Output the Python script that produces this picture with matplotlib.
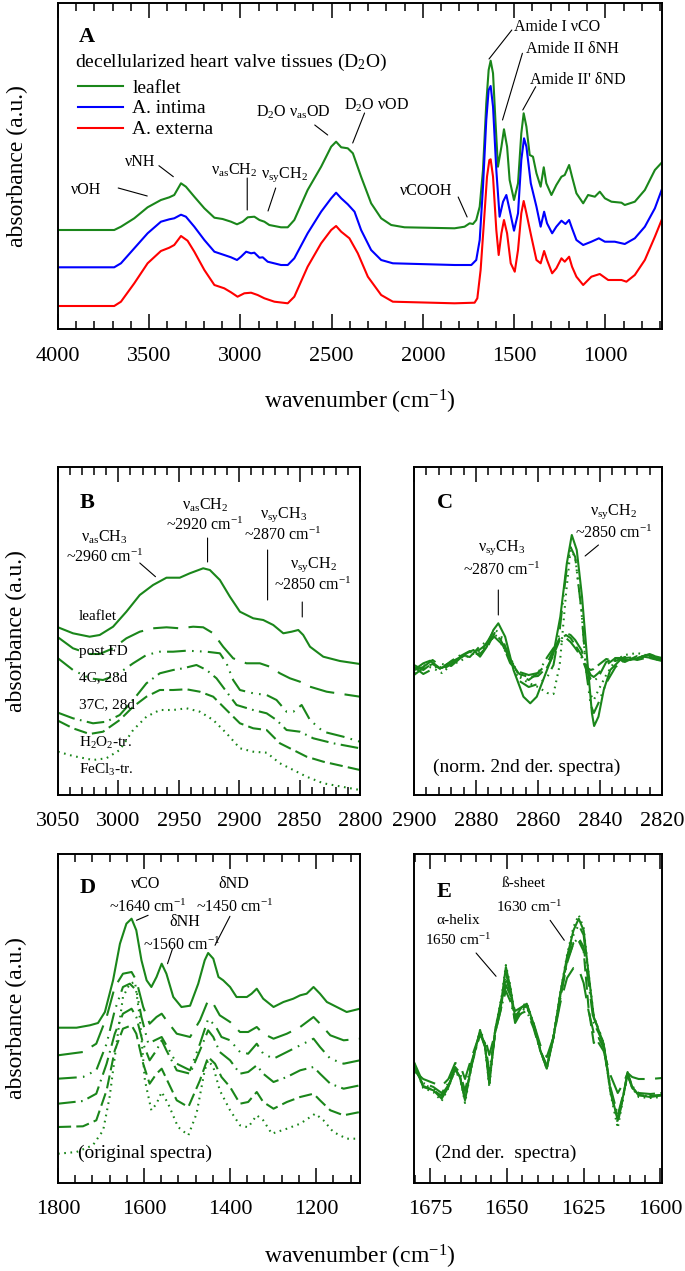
import matplotlib
matplotlib.use("Agg")
import matplotlib.pyplot as plt
from matplotlib.ticker import MultipleLocator

plt.rcParams['font.family'] = ['Liberation Serif', 'DejaVu Serif']
plt.rcParams['font.serif'] = ['Liberation Serif', 'DejaVu Serif']
plt.rcParams['mathtext.fontset'] = 'custom'
plt.rcParams['mathtext.rm'] = 'Liberation Serif'
plt.rcParams['mathtext.it'] = 'Liberation Serif:italic'
plt.rcParams['mathtext.bf'] = 'Liberation Serif:bold'
plt.rcParams['mathtext.default'] = 'regular'

GREEN = '#1a861a'

# ---------------- Panel A data ----------------
A_green_w = [4000, 3692, 3655, 3582, 3509, 3436, 3390, 3363, 3326, 3299, 3253, 3198, 3143, 3098, 3052, 3019, 2988, 2960, 2924, 2896, 2869, 2842, 2778, 2741, 2705, 2632, 2558, 2503, 2476, 2448, 2412, 2384, 2339, 2284, 2229, 2174, 2101, 1827, 1772, 1744, 1726, 1708, 1689, 1671, 1653, 1640, 1629, 1616, 1603, 1589, 1570, 1556, 1539, 1525, 1501, 1479, 1461, 1448, 1433, 1415, 1397, 1378, 1355, 1338, 1324, 1296, 1269, 1241, 1223, 1199, 1183, 1159, 1122, 1095, 1058, 1031, 1003, 967, 912, 894, 839, 784, 729, 692]
A_green_h = [99, 99, 102.3, 110.7, 121.7, 129, 131.7, 134, 145.7, 142.3, 132.3, 120.7, 111.3, 110, 107.3, 104.7, 107.3, 111.7, 112.3, 109, 107.3, 104, 101.7, 101.7, 109, 139, 162.3, 182.3, 187.3, 181.7, 180.7, 175.7, 152.3, 125.7, 110.7, 104, 101.7, 100.7, 102.3, 105.7, 105, 109, 122.3, 159, 225.7, 259, 268.3, 255.7, 209, 162.3, 182.3, 199.7, 182.3, 149, 129, 145.7, 195.7, 215.7, 202.3, 174, 172.3, 155.7, 142.3, 161.7, 145.7, 134, 144, 152.3, 154, 164, 152.3, 135.7, 125.7, 134, 132.3, 137.3, 130.7, 127.3, 126.3, 124, 127.3, 139, 159, 166.3]

A_blue_w = [4000, 3692, 3655, 3582, 3509, 3436, 3390, 3363, 3326, 3299, 3253, 3198, 3143, 3089, 3052, 3019, 2997, 2969, 2942, 2924, 2896, 2878, 2851, 2778, 2741, 2705, 2632, 2558, 2503, 2476, 2448, 2412, 2375, 2339, 2284, 2229, 2165, 1827, 1735, 1708, 1689, 1671, 1653, 1640, 1629, 1616, 1598, 1580, 1561, 1543, 1525, 1501, 1479, 1461, 1446, 1433, 1409, 1378, 1355, 1336, 1320, 1292, 1269, 1241, 1219, 1199, 1183, 1159, 1122, 1077, 1036, 1003, 949, 894, 839, 784, 729, 692]
A_blue_h = [61.7, 61.7, 65.7, 80.7, 95.7, 107.3, 109.7, 110.7, 114.3, 112.3, 102.3, 89, 77.3, 74, 71.7, 69, 72.3, 77.3, 75.7, 76.3, 71.3, 71.7, 67.3, 64, 64, 70.7, 95.7, 117.3, 130.7, 136.3, 130.7, 124.7, 117.3, 99, 79, 69, 65.7, 64, 64, 69, 89, 142.3, 209, 239, 243, 222.3, 159, 112.3, 127.3, 134, 119, 98.3, 115.7, 169, 190.7, 182.3, 145.7, 122.3, 102.3, 117.3, 105.7, 95.7, 102.3, 108.3, 105, 109, 100.7, 89, 84, 87.3, 90.7, 87.3, 87.3, 85, 90.7, 102.3, 120.7, 139]

A_red_w = [4000, 3692, 3655, 3582, 3509, 3436, 3390, 3363, 3326, 3290, 3253, 3198, 3143, 3089, 3052, 3016, 2979, 2942, 2906, 2869, 2814, 2741, 2705, 2632, 2558, 2503, 2476, 2448, 2403, 2357, 2302, 2229, 2165, 1827, 1717, 1702, 1684, 1665, 1649, 1636, 1629, 1616, 1598, 1585, 1570, 1556, 1539, 1519, 1497, 1479, 1461, 1448, 1433, 1406, 1378, 1355, 1336, 1320, 1292, 1269, 1241, 1223, 1199, 1183, 1159, 1122, 1077, 1031, 985, 912, 885, 839, 784, 729, 692]
A_red_h = [23, 23, 27.3, 45.7, 65.7, 78, 81.3, 84, 93, 88.3, 77.3, 59, 44, 40.7, 36.7, 32.3, 35.7, 36.3, 34, 30.7, 27.3, 25.7, 32.3, 62.3, 85.7, 99, 103, 97.3, 90.7, 75.7, 52.3, 34, 27.3, 25.7, 26.3, 30.7, 59, 109, 152.3, 169, 169.7, 152.3, 99, 74, 95.7, 109, 95.7, 65.7, 57.3, 79, 115.7, 128, 115.7, 92.3, 69, 65.7, 78, 69, 55.7, 60.7, 70.7, 67.3, 72.3, 62.3, 52.3, 44, 52.3, 55, 49, 49, 47.3, 54, 69, 92.3, 109]

A_labels = ['leaflet', 'A. intima', 'A. externa']

# ---------------- Panel B data ----------------
B_leaflet_w = [3050, 3037.6, 3023.8, 3015.5, 3004.4, 2993.4, 2982.3, 2971.3, 2960.2, 2949.2, 2940.9, 2929.8, 2924.3, 2916, 2907.7, 2899.4, 2888.4, 2880.1, 2871.8, 2863.5, 2856.6, 2851.1, 2847, 2841.4, 2830.4, 2816.6, 2800]
B_leaflet_h = [167.7, 161.7, 158.3, 160, 168.3, 183.3, 200, 210, 217.3, 217.3, 221.7, 226.7, 225, 215, 198.3, 183.3, 176.7, 175, 170, 161.7, 163.3, 165, 160, 148.3, 138.3, 134, 131]
B_postFD_w = [3050, 3037.6, 3023.8, 3015.5, 3004.4, 2993.4, 2982.3, 2971.3, 2960.2, 2949.2, 2938.1, 2929.8, 2921.5, 2913.3, 2905, 2894, 2882.9, 2874.6, 2866.3, 2858, 2849.7, 2841.4, 2827.6, 2800]
B_postFD_h = [157.7, 146.7, 141, 141, 146.7, 156.7, 163.3, 166.7, 167.7, 166.7, 168.3, 167.7, 161.7, 148.3, 136.7, 131.7, 131.7, 128.3, 121.7, 116.7, 113.3, 108.3, 103.3, 98.3]
B_4C_w = [3050, 3037.6, 3023.8, 3012.7, 3001.7, 2987.8, 2976.8, 2965.7, 2954.7, 2943.6, 2927, 2916, 2910.5, 2905, 2899.4, 2888.4, 2877.3, 2869.1, 2860.8, 2855.2, 2848.3, 2841.4, 2830.4, 2813.8, 2800]
B_4C_h = [136.7, 125, 116.7, 115, 120, 131.7, 140, 143.3, 143.3, 144.3, 143.3, 141.7, 131.7, 115, 105, 101.7, 100, 95, 83.3, 83.3, 90, 75, 63.3, 58.3, 53.3]
B_37C_w = [3050, 3037.6, 3021, 3010, 2998.9, 2987.8, 2976.8, 2965.7, 2954.7, 2946.4, 2935.4, 2927, 2918.8, 2910.5, 2902.2, 2888.4, 2877.3, 2869.1, 2860.8, 2849.7, 2838.7, 2822.1, 2800]
B_37C_h = [82.3, 76.7, 71.7, 73.3, 80, 95, 111.7, 121.7, 125, 126.7, 130, 125, 116.7, 103.3, 90, 85, 81.7, 75, 65, 63.3, 56.7, 51.7, 46.7]
B_H2O2_w = [3050, 3037.6, 3023.8, 3012.7, 2998.9, 2987.8, 2976.8, 2965.7, 2954.7, 2943.6, 2932.6, 2921.5, 2910.5, 2899.4, 2888.4, 2877.3, 2866.3, 2855.2, 2844.2, 2830.4, 2800]
B_H2O2_h = [74.3, 66.7, 61, 63.3, 75, 88.3, 98.3, 105, 105, 105.7, 103.3, 98.3, 85, 71.7, 66.7, 65, 51.7, 45, 38.3, 33.3, 25]
B_FeCl3_w = [3050, 3037.6, 3021, 3010, 2998.9, 2987.8, 2976.8, 2965.7, 2954.7, 2943.6, 2932.6, 2921.5, 2910.5, 2899.4, 2888.4, 2877.3, 2866.3, 2855.2, 2844.2, 2830.4, 2800]
B_FeCl3_h = [43.3, 39, 35, 36.7, 45, 65, 78.3, 85, 85, 86.7, 83.3, 75, 61.7, 46.7, 43.3, 42.3, 31.7, 25, 18.3, 11.7, 5]
B_labels = ['leaflet', 'post FD', '4C, 28d', '37C, 28d', 'H$_2$O$_2$-tr.', 'FeCl$_3$-tr.']
B_label_h = [178, 144, 117, 90, 52, 25]

# ---------------- Panel C data ----------------
C_leaflet_w = [2900, 2897, 2894.8, 2891.6, 2888.4, 2886.2, 2883, 2880.8, 2878.7, 2876.5, 2874.4, 2872.8, 2870.6, 2867.9, 2864.7, 2862.5, 2860.4, 2857.1, 2855, 2852.8, 2850.7, 2849.1, 2847.5, 2845.8, 2844.2, 2842.6, 2841.9, 2840.5, 2838.8, 2836.7, 2833.5, 2830.2, 2825.9, 2822.7, 2820]
C_leaflet_h = [125, 131.7, 134.3, 126.7, 130, 135, 141.7, 145, 138.3, 148.3, 165, 171.7, 158.3, 125, 98.3, 91.7, 98.3, 125, 141.7, 178.3, 231.7, 260, 245, 198.3, 138.3, 81.7, 69, 78.3, 105, 125, 135, 135, 138.3, 136.7, 135]
C_w = [2900, 2897, 2894, 2891, 2888, 2885, 2882, 2879, 2876, 2874, 2872, 2869, 2866, 2863, 2860, 2857, 2855, 2853, 2851, 2849.5, 2848, 2846, 2844.5, 2843, 2842, 2840.5, 2838, 2835, 2832, 2828, 2824, 2820]
C_postFD_h = [125, 128, 135, 128, 133, 138, 142, 145, 152, 160, 155, 135, 123, 120, 122, 132, 145, 157, 162, 160, 155, 145, 130, 120, 118, 122, 130, 137, 137, 138, 140, 137]
C_4C_h = [128, 121, 126, 131, 129, 137, 143, 141, 155, 166, 160, 136, 114, 108, 111, 118, 130, 165, 220, 248, 238, 185, 125, 90, 82, 92, 112, 128, 135, 137, 141, 136]
C_37C_h = [130, 125, 132, 127, 134, 140, 138, 148, 155, 158, 152, 135, 120, 115, 122, 138, 147, 152, 157, 153, 147, 138, 126, 116, 114, 118, 133, 137, 133, 139, 137, 134]
C_H2O2_h = [120, 127, 131, 125, 131, 139, 144, 140, 150, 162, 155, 132, 121, 118, 119, 128, 140, 155, 160, 157, 150, 140, 128, 125, 126, 130, 136, 134, 138, 135, 138, 136]
C_FeCl3_h = [122, 130, 127, 122, 130, 134, 140, 143, 150, 160, 157, 138, 118, 112, 108, 102, 101, 130, 200, 245, 238, 185, 125, 100, 95, 105, 120, 135, 140, 142, 139, 133]

# ---------------- Panel D data ----------------
D_leaflet_w = [1800, 1757, 1726, 1707, 1691, 1672, 1656, 1641, 1629, 1618, 1606, 1594, 1583, 1571, 1559, 1548, 1532, 1513, 1493, 1474, 1459, 1451, 1439, 1427, 1416, 1400, 1385, 1361, 1350, 1338, 1323, 1299, 1276, 1253, 1237, 1222, 1206, 1191, 1175, 1152, 1129, 1098]
D_leaflet_h = [155.3, 155.3, 157.7, 160, 171, 202.7, 239.3, 259.3, 264.3, 252.7, 222.7, 202.7, 196, 206, 219.3, 209.3, 186, 176, 177.3, 199.3, 222.7, 230, 224.3, 206, 202.7, 196, 186, 186, 189.3, 194.3, 184.3, 176, 181, 184.3, 187.7, 189.3, 196, 189.3, 181, 176, 171, 174.3]
D_postFD_w = [1800, 1742, 1711, 1687, 1668, 1649, 1629, 1618, 1602, 1587, 1571, 1559, 1548, 1524, 1493, 1470, 1451, 1439, 1424, 1400, 1377, 1358, 1338, 1323, 1299, 1268, 1237, 1206, 1191, 1167, 1136, 1098]
D_postFD_h = [127.7, 131, 139.3, 166, 196, 209.3, 211, 202.7, 176, 159.3, 166, 169.3, 162.7, 149.3, 146, 162.7, 182.7, 179.3, 167.7, 161, 151, 151, 156, 149.3, 144.3, 149.3, 156, 166, 159.3, 147.7, 142.7, 144.3]
D_4C_w = [1800, 1742, 1711, 1687, 1668, 1649, 1633, 1618, 1606, 1590, 1575, 1559, 1548, 1524, 1493, 1470, 1451, 1435, 1420, 1400, 1377, 1358, 1338, 1323, 1299, 1268, 1237, 1206, 1191, 1167, 1136, 1098]
D_4C_h = [104.3, 106, 112.7, 139.3, 172.7, 196, 199.3, 192.7, 166, 139.3, 142.7, 146, 137.7, 119.3, 112.7, 139.3, 164, 157.7, 146, 142.7, 131, 129.3, 139.3, 129.3, 124.3, 131, 137.7, 144.3, 136, 124.3, 119.3, 122.7]
D_37C_w = [1800, 1742, 1711, 1687, 1668, 1649, 1629, 1618, 1602, 1587, 1571, 1559, 1548, 1524, 1493, 1470, 1451, 1439, 1424, 1400, 1377, 1358, 1338, 1323, 1299, 1268, 1237, 1206, 1191, 1167, 1136, 1098]
D_37C_h = [79.3, 82, 89.3, 119.3, 149.3, 169.3, 174.3, 166, 139.3, 122.7, 132.7, 142.7, 132.7, 112.7, 109.3, 132.7, 152.7, 146, 131, 122.7, 109.3, 111, 117.7, 109.3, 101, 106, 112.7, 116, 109.3, 99.3, 94.3, 97.7]
D_H2O2_w = [1800, 1742, 1711, 1687, 1668, 1649, 1629, 1618, 1602, 1587, 1571, 1559, 1548, 1524, 1497, 1470, 1451, 1435, 1420, 1400, 1377, 1358, 1338, 1323, 1299, 1268, 1237, 1206, 1191, 1167, 1136, 1098]
D_H2O2_h = [56, 56.7, 62.7, 92.7, 132.7, 154.3, 157.7, 149.3, 119.3, 99.3, 109.3, 114.3, 104.3, 82.7, 76, 102.7, 126, 119.3, 106, 96, 79.3, 81, 91, 81, 74.3, 81, 86, 89.3, 82.7, 72.7, 67.7, 71]
D_FeCl3_w = [1800, 1757, 1719, 1695, 1680, 1664, 1649, 1633, 1621, 1610, 1598, 1583, 1571, 1559, 1544, 1521, 1497, 1478, 1459, 1451, 1439, 1424, 1400, 1377, 1358, 1338, 1323, 1303, 1268, 1237, 1202, 1183, 1160, 1129, 1098]
D_FeCl3_h = [29.3, 31, 37.7, 52.7, 86, 139.3, 186, 199.3, 201, 166, 102.7, 72.7, 79.3, 91, 79.3, 56, 47.7, 69.3, 112.7, 122.7, 116, 92.7, 72.7, 57.7, 55.7, 67.7, 62.7, 49.3, 54.3, 59.3, 69.3, 62.7, 51, 44.3, 44.3]

# ---------------- Panel E data ----------------
E_w = [1680.2, 1677.2, 1673.9, 1671.2, 1669, 1666.8, 1665.2, 1663.6, 1661.4, 1658.7, 1657.1, 1655.7, 1653.8, 1651.6, 1650.3, 1648.9, 1647.3, 1645.1, 1643.5, 1641.3, 1639.1, 1637, 1634.8, 1632.6, 1630.4, 1628.3, 1626.6, 1625, 1623.4, 1621.7, 1620.1, 1618.5, 1616.3, 1613.9, 1612, 1610.7, 1609.2, 1607.1, 1603.3, 1599.5]
E_leaflet_h = [119.3, 96, 92.7, 84.3, 96, 114.3, 106, 82.7, 119.3, 152.7, 137.3, 99.3, 152.7, 186, 216, 196, 166, 176, 179.3, 159.3, 132.7, 114.3, 146, 189.3, 226, 252.7, 264.3, 252.7, 209.3, 166, 152.7, 139.3, 92.7, 62.7, 89.3, 111, 96, 87.7, 86, 87.7]
E_postFD_h = [112, 104, 100, 97, 104, 120, 118, 104, 126, 150, 145, 128, 150, 178, 198, 188, 172, 176, 178, 160, 138, 126, 146, 180, 205, 215, 214, 200, 172, 150, 140, 132, 108, 90, 100, 110, 106, 104, 104, 105]
E_4C_h = [117, 98, 95, 88, 98, 112, 104, 86, 118, 150, 136, 100, 150, 182, 210, 192, 160, 172, 176, 157, 132, 115, 146, 188, 225, 248, 258, 248, 205, 165, 154, 140, 92, 60, 88, 108, 95, 88, 87, 88]
E_37C_h = [121, 100, 96, 90, 100, 116, 110, 92, 122, 148, 140, 112, 150, 178, 192, 182, 164, 170, 172, 155, 132, 118, 146, 184, 220, 240, 245, 236, 200, 160, 150, 138, 96, 68, 90, 108, 97, 90, 89, 90]
E_H2O2_h = [118, 97, 93, 87, 97, 113, 106, 84, 120, 151, 137, 102, 151, 184, 205, 191, 163, 174, 177, 158, 133, 116, 146, 187, 222, 240, 242, 232, 175, 140, 145, 135, 94, 64, 89, 109, 96, 88, 87, 88]
E_FeCl3_h = [120, 95, 91, 82, 95, 114, 105, 80, 118, 153, 137, 96, 153, 188, 218, 198, 166, 177, 180, 160, 133, 114, 147, 190, 228, 256, 268, 255, 210, 167, 153, 140, 90, 55, 87, 111, 95, 86, 85, 86]

# line styles (leaflet, post FD, 4C, 37C, H2O2, FeCl3)
STYLES = ['-', (0, (12, 5)), (0, (9, 3, 0.8, 3, 0.8, 3)), (0, (8.5, 2.6, 0.8, 2.6)),
          (0, (6.3, 2.5)), (0, (0.8, 2.2))]

W, H = 685, 1271
fig = plt.figure(figsize=(W / 100, H / 100), dpi=100)
SERIF = 'Liberation Serif'


def px_axes(l, t, r, b):
    return fig.add_axes([l / W, 1 - b / H, (r - l) / W, (b - t) / H])


def style_axes(ax, major, minor, pad=12):
    ax.xaxis.set_major_locator(MultipleLocator(major))
    ax.xaxis.set_minor_locator(MultipleLocator(minor))
    ax.tick_params(axis='x', which='both', direction='in', top=True, bottom=True,
                   labelsize=16, pad=pad, labelfontfamily=SERIF)
    ax.tick_params(axis='x', which='major', length=11, width=1.1)
    ax.tick_params(axis='x', which='minor', length=5.5, width=1.1)
    ax.tick_params(axis='y', which='both', left=False, right=False, labelleft=False)
    for s in ax.spines.values():
        s.set_linewidth(1.4)


def set_ylab(ax, axwidth_px, center_px=16):
    ax.set_ylabel('absorbance (a.u.)', fontsize=17, family=SERIF)
    ax.yaxis.set_label_coords(-(58 - center_px) / axwidth_px, 0.5)
    ax.yaxis.label.set_va('center')


def note(ax, txt, x, y, fs=11.5, ha='center', va='center', **kw):
    ax.text(x, y, txt, fontsize=fs, ha=ha, va=va, family=SERIF, **kw)


def seg(ax, p0, p1):
    ax.annotate('', xy=p1, xytext=p0,
                arrowprops=dict(arrowstyle='-', lw=0.8, color='k', shrinkA=0, shrinkB=0))


# ---------------- Panel A ----------------
axA = px_axes(58, 3, 662, 329)
lg, = axA.plot(A_green_w, A_green_h, color=GREEN, lw=1.5)
lb, = axA.plot(A_blue_w, A_blue_h, color='#0000ff', lw=1.5)
lr, = axA.plot(A_red_w, A_red_h, color='#ff0000', lw=1.5)
axA.set_xlim(4000, 690)
axA.set_ylim(0, 326)
style_axes(axA, 500, 100, pad=13)
set_ylab(axA, 604, 17)
axA.set_xlabel('wavenumber (cm$^{-1}$)', fontsize=17, family=SERIF)
axA.xaxis.set_label_coords(0.5, -(402 - 329) / 326)
axA.xaxis.label.set_va('center')

note(axA, 'A', 3885, 292, fs=16, ha='left', fontweight='bold')
note(axA, 'decellularized heart valve tissues (D$_2$O)', 3909, 267, fs=14, ha='left')
axA.legend([lg, lb, lr], A_labels, loc='upper left', bbox_to_anchor=(0.033, 0.767),
           frameon=False, prop={'family': SERIF, 'size': 14}, handlelength=2.3,
           handletextpad=0.5, labelspacing=0.17, borderpad=0, borderaxespad=0)
note(axA, 'νOH', 3844, 139)
seg(axA, (3670, 141), (3511, 133))
note(axA, 'νNH', 3547, 167)
seg(axA, (3447, 163.3), (3368, 152.3))
note(axA, 'ν$_{as}$CH$_2$', 3033, 159)
seg(axA, (2963, 151), (2963, 119))
note(axA, 'ν$_{sy}$CH$_2$', 2761, 154)
seg(axA, (2807, 141), (2849, 118))
note(axA, 'D$_2$O ν$_{as}$OD', 2710, 217)
seg(axA, (2593, 204), (2522, 194))
note(axA, 'D$_2$O νOD', 2255, 224)
seg(axA, (2320, 216), (2385, 186))
note(axA, 'νCOOH', 1982, 138)
seg(axA, (1807, 132), (1758, 112))
note(axA, 'Amide I νCO', 1502, 302, ha='left')
seg(axA, (1513, 299), (1638, 270))
note(axA, 'Amide II δNH', 1437, 280, ha='left')
seg(axA, (1455, 275.7), (1564, 209))
note(axA, "Amide II' δND", 1415, 249, ha='left')
seg(axA, (1382, 242.3), (1453, 219))

# ---------------- Panel B ----------------
axB = px_axes(58, 467, 360, 795)
B_series = [(B_leaflet_w, B_leaflet_h), (B_postFD_w, B_postFD_h), (B_4C_w, B_4C_h),
            (B_37C_w, B_37C_h), (B_H2O2_w, B_H2O2_h), (B_FeCl3_w, B_FeCl3_h)]
for (xs, ys), ls in zip(B_series, STYLES):
    axB.plot(xs, ys, color=GREEN, lw=1.5, linestyle=ls)
axB.set_xlim(3050, 2800)
axB.set_ylim(0, 328)
style_axes(axB, 50, 10)
set_ylab(axB, 302)
note(axB, 'B', 3032, 292, fs=16, ha='left', fontweight='bold')
for lab, hh in zip(B_labels, B_label_h):
    note(axB, lab, 3032.9, hh, fs=11, ha='left')
note(axB, 'ν$_{as}$CH$_3$', 3011.3, 258)
note(axB, '~2960 cm$^{-1}$', 3011.3, 238)
seg(axB, (2982.3, 232), (2969.3, 218.3))
note(axB, 'ν$_{as}$CH$_2$', 2928.5, 290)
note(axB, '~2920 cm$^{-1}$', 2928.5, 270)
seg(axB, (2926.2, 257), (2926.2, 233))
note(axB, 'ν$_{sy}$CH$_3$', 2863.5, 280)
note(axB, '~2870 cm$^{-1}$', 2863.5, 260)
seg(axB, (2876.5, 245), (2876.5, 195))
note(axB, 'ν$_{sy}$CH$_2$', 2838.7, 230)
note(axB, '~2850 cm$^{-1}$', 2838.7, 210)
seg(axB, (2847.8, 193), (2847.8, 178))

# ---------------- Panel C ----------------
axC = px_axes(414, 467, 662, 795)
axC.plot(C_leaflet_w, C_leaflet_h, color=GREEN, lw=1.5, linestyle=STYLES[0])
for ys, ls in zip([C_postFD_h, C_4C_h, C_37C_h, C_H2O2_h, C_FeCl3_h], STYLES[1:]):
    axC.plot(C_w, ys, color=GREEN, lw=1.5, linestyle=ls)
axC.set_xlim(2900, 2820)
axC.set_ylim(0, 328)
style_axes(axC, 20, 4)
note(axC, 'C', 2892.6, 292, fs=16, ha='left', fontweight='bold')
note(axC, 'ν$_{sy}$CH$_3$', 2871.6, 247)
note(axC, '~2870 cm$^{-1}$', 2871.6, 225)
seg(axC, (2872.8, 205), (2872.8, 180))
note(axC, 'ν$_{sy}$CH$_2$', 2835.7, 283)
note(axC, '~2850 cm$^{-1}$', 2835.7, 262)
seg(axC, (2840.5, 250), (2844.8, 239))
note(axC, '(norm. 2nd der. spectra)', 2863.5, 28, fs=14)

# ---------------- Panel D ----------------
axD = px_axes(58, 854, 360, 1183)
D_series = [(D_leaflet_w, D_leaflet_h), (D_postFD_w, D_postFD_h), (D_4C_w, D_4C_h),
            (D_37C_w, D_37C_h), (D_H2O2_w, D_H2O2_h), (D_FeCl3_w, D_FeCl3_h)]
for (xs, ys), ls in zip(D_series, STYLES):
    axD.plot(xs, ys, color=GREEN, lw=1.5, linestyle=ls)
axD.set_xlim(1800, 1098)
axD.set_ylim(0, 329)
style_axes(axD, 200, 40)
set_ylab(axD, 302)
note(axD, 'D', 1749.6, 295, fs=16, ha='left', fontweight='bold')
note(axD, 'νCO', 1596, 299.3)
note(axD, '~1640 cm$^{-1}$', 1590.5, 276)
seg(axD, (1590.5, 267.7), (1617.6, 262.7))
note(axD, 'δND', 1392.6, 299.3)
note(axD, '~1450 cm$^{-1}$', 1388.7, 276)
seg(axD, (1400.3, 266.7), (1435, 237.7))
note(axD, 'δNH', 1505, 261)
note(axD, '~1560 cm$^{-1}$', 1512.8, 237.7)
seg(axD, (1533.8, 234.3), (1545.4, 219.3))
note(axD, '(original spectra)', 1753.4, 29.3, fs=14, ha='left')

# ---------------- Panel E ----------------
axE = px_axes(414, 854, 662, 1183)
for ys, ls in zip([E_leaflet_h, E_postFD_h, E_4C_h, E_37C_h, E_H2O2_h, E_FeCl3_h], STYLES):
    axE.plot(E_w, ys, color=GREEN, lw=1.5, linestyle=ls)
axE.set_xlim(1680.2, 1599.5)
axE.set_ylim(0, 329)
style_axes(axE, 25, 5)
note(axE, 'E', 1673, 291, fs=16, ha='left', fontweight='bold')
note(axE, 'ß-sheet', 1644.6, 299.3, fs=11)
note(axE, '1630 cm$^{-1}$', 1642.9, 276, fs=11)
seg(axE, (1635.9, 262.7), (1631.3, 242.7))
note(axE, 'α-helix', 1665.8, 262.7, fs=11)
note(axE, '1650 cm$^{-1}$', 1665.8, 242.7, fs=11)
seg(axE, (1660, 230), (1653.5, 206.7))
note(axE, '(2nd der.  spectra)', 1650.5, 30, fs=14)

fig.text(360 / W, 1 - 1257 / H, 'wavenumber (cm$^{-1}$)', fontsize=17, ha='center',
         va='center', family=SERIF)

fig.savefig('out.png', dpi=100)
